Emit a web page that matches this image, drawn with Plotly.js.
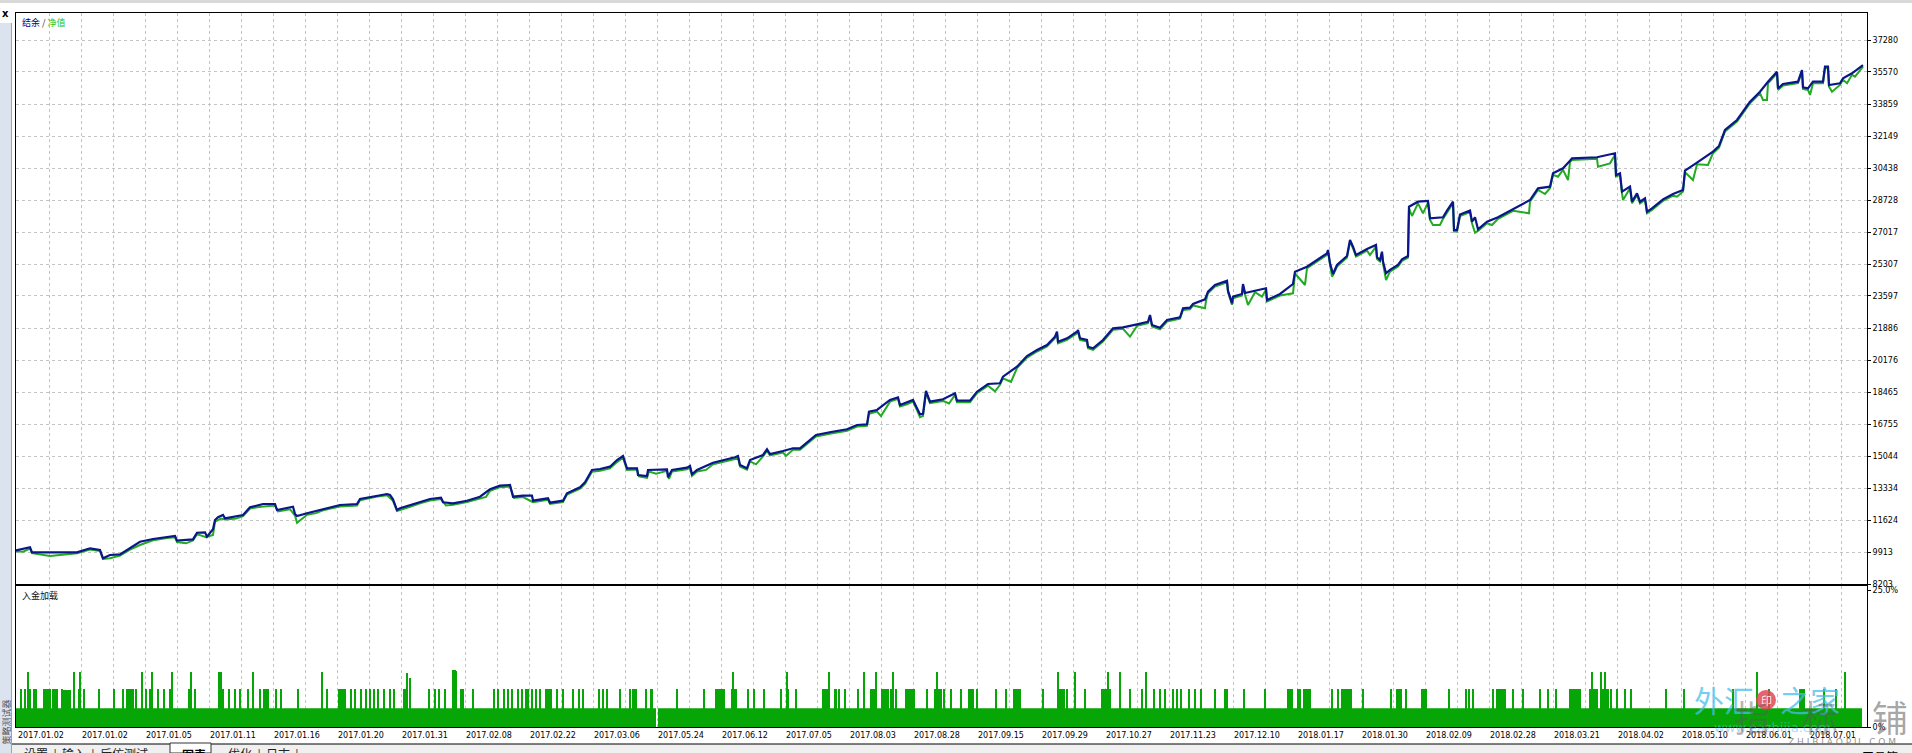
<!DOCTYPE html>
<html><head><meta charset="utf-8">
<script src="https://cdn.plot.ly/plotly-3.0.1.min.js"></script>
<style>html,body{margin:0;padding:0;background:#fff;overflow:hidden}#chart{width:1912px;height:753px}</style>
</head><body><div id="chart"></div>
<script>
// ---------- DATA ----------
const yTickValues = [8203, 9913, 11624, 13334, 15044, 16755, 18465, 20176, 21886, 23597, 25307, 27017, 28728, 30438, 32149, 33859, 35570, 37280];
const yTickLabels = ['8203','9913','11624','13334','15044','16755','18465','20176','21886','23597','25307','27017','28728','30438','32149','33859','35570','37280'];
const dateLabels = ['2017.01.02','2017.01.02','2017.01.05','2017.01.11','2017.01.16','2017.01.20','2017.01.31','2017.02.08','2017.02.22','2017.03.06','2017.05.24','2017.06.12','2017.07.05','2017.08.03','2017.08.28','2017.09.15','2017.09.29','2017.10.27','2017.11.23','2017.12.10','2018.01.17','2018.01.30','2018.02.09','2018.02.28','2018.03.21','2018.04.02','2018.05.10','2018.06.01','2018.07.01'];

// balance (trade index -> value)
const balX = [0,14,16,61,74,84,87,94,104,114,124,137,151,159,161,177,181,189,191,197,199,202,207,209,227,234,247,259,261,274,277,279,281,291,307,324,341,344,371,374,377,381,384,394,404,414,425,427,437,451,464,474,484,494,497,507,516,517,532,534,547,551,564,569,576,584,594,601,607,609,611,621,622,631,632,651,652,656,671,674,676,681,697,719,722,724,731,734,747,751,754,767,777,784,800,815,831,841,851,853,861,874,882,884,891,897,901,904,907,910,914,927,939,941,954,961,972,984,987,1001,1011,1021,1031,1039,1041,1042,1051,1061,1062,1064,1071,1072,1077,1087,1097,1107,1121,1132,1134,1136,1144,1151,1164,1167,1174,1177,1189,1192,1199,1211,1212,1216,1217,1226,1227,1229,1239,1250,1251,1264,1277,1279,1291,1301,1311,1312,1314,1317,1321,1331,1334,1337,1340,1351,1360,1361,1364,1366,1367,1370,1374,1382,1386,1392,1393,1402,1412,1414,1427,1431,1437,1438,1441,1444,1454,1456,1459,1462,1471,1482,1497,1514,1522,1534,1537,1547,1554,1556,1581,1599,1600,1604,1606,1614,1616,1621,1624,1629,1631,1636,1647,1657,1667,1669,1681,1697,1703,1709,1721,1734,1744,1752,1761,1762,1767,1782,1786,1787,1792,1797,1807,1809,1812,1813,1824,1827,1836,1847];
const balY = [10000,10165,9897,9897,10111,10020,9577,9753,9790,10111,10464,10608,10731,10769,10517,10590,10945,10966,10731,11126,11624,11768,11891,11714,11891,12303,12479,12479,12158,12281,12335,11945,11838,11982,12212,12425,12479,12746,13013,12960,12730,12158,12250,12425,12603,12746,12816,12570,12516,12655,12869,13264,13457,13494,12869,12923,12923,12655,12784,12549,12655,13050,13371,13639,14296,14350,14473,14831,15044,14654,14387,14387,14029,13975,14296,14332,13906,14296,14420,14510,14066,14296,14686,14975,15044,14563,14387,14831,15098,15401,15151,15312,15456,15456,16167,16327,16472,16701,16739,17413,17504,18038,18182,17771,17894,18038,17594,17273,17300,18519,17947,18075,18396,18000,18000,18482,18893,18930,19286,19820,20390,20710,20978,21421,21689,21154,21332,21689,21779,21332,21245,20887,20798,21245,21870,21924,22084,22223,22581,22047,21904,22314,22457,22938,22972,23169,23420,23826,24185,24414,23880,23207,23560,23704,24238,23757,23880,24009,23383,23704,24238,24896,25163,25521,25879,26055,25344,24772,25254,25735,26590,26233,25788,26109,26323,25665,25521,25966,25436,24812,24990,25254,25558,25735,28370,28637,28674,27749,27802,28156,28637,27124,27124,27953,28167,27567,27802,27161,27567,27802,28230,28728,29352,29441,30157,30424,30830,30958,31012,31226,30064,30157,29172,29441,28637,29085,28637,28816,28102,28280,28764,29049,29262,30295,30723,31311,31615,32470,33004,33982,34517,35051,35585,34694,34929,35051,35676,34752,34694,35051,35051,35852,35852,34875,34965,35233,35500,35943];

// equity
const eqX = [0,7,14,16,34,50,61,74,84,87,94,104,114,124,137,151,159,161,170,177,181,190,197,199,205,209,220,227,234,245,259,262,274,279,281,291,300,307,324,341,344,360,371,377,381,394,404,414,425,430,437,451,464,470,474,484,494,498,507,517,532,534,547,551,564,569,576,584,594,601,607,611,621,623,631,633,640,651,653,656,671,674,676,681,690,697,719,722,724,731,734,740,747,751,754,767,770,777,784,800,815,831,841,851,853,861,865,874,882,884,891,897,901,904,907,910,914,927,933,939,941,954,961,972,979,984,987,995,1001,1011,1021,1031,1039,1041,1042,1051,1061,1062,1064,1071,1072,1077,1087,1097,1107,1114,1121,1132,1134,1136,1144,1151,1164,1167,1174,1177,1189,1190,1192,1199,1211,1212,1216,1217,1226,1227,1229,1232,1239,1246,1250,1251,1264,1277,1279,1289,1291,1301,1311,1312,1314,1316,1317,1321,1331,1334,1337,1340,1351,1354,1360,1361,1364,1366,1367,1370,1374,1382,1386,1392,1393,1396,1402,1407,1412,1414,1417,1424,1427,1431,1437,1438,1441,1444,1454,1456,1459,1462,1471,1476,1482,1497,1513,1514,1522,1529,1534,1537,1542,1547,1552,1554,1556,1581,1582,1594,1599,1600,1604,1606,1607,1614,1616,1617,1621,1624,1629,1631,1636,1646,1647,1657,1661,1667,1669,1677,1681,1692,1697,1703,1709,1721,1734,1744,1747,1751,1752,1761,1762,1767,1782,1786,1787,1792,1794,1797,1807,1809,1812,1813,1816,1824,1827,1831,1836,1839,1847];
const eqY = [9960,9930,10100,9850,9700,9780,9840,10050,9960,9540,9577,9720,10040,10287,10540,10660,10700,10440,10378,10530,10870,10700,10822,11533,11700,11650,11700,11830,12240,12330,12400,12080,12200,11860,11480,11900,11990,12140,12350,12400,12680,12860,12950,12650,12100,12330,12520,12660,12750,12400,12440,12580,12790,12860,13180,13380,13420,12800,12850,12580,12700,12480,12580,12980,13300,13560,14200,14260,14380,14720,14950,14300,14320,13950,13880,14220,14100,14250,13820,14220,14340,14420,13980,14220,14300,14600,14880,14950,14480,14320,14760,14600,15020,15320,15080,15230,15050,15380,15380,16090,16250,16390,16620,16660,17300,17420,17180,17950,18100,17690,17810,17950,17500,17120,17180,18420,17870,17990,17850,18310,17920,17920,18400,18800,18500,18850,19200,19000,19740,20300,20630,20900,21340,21600,21070,21250,21600,21700,21250,21160,20800,20720,21160,21790,21840,21421,22000,22140,22500,21970,21820,22230,22380,22850,22890,23090,22938,23340,23740,24100,24330,23800,23130,23480,23620,24150,23680,23115,23800,23560,23930,23300,23620,23740,24800,24185,25080,25440,25800,25970,25260,24629,24700,25170,25650,26500,26150,25700,26020,25788,26240,25580,25440,25880,25350,24450,24900,25170,25470,25650,28280,27873,28550,28016,28590,27660,27390,27390,27720,28070,28550,27040,27040,27870,28080,27480,26980,27080,27480,27390,27720,28150,28016,28640,29270,29049,29360,30070,29974,30340,29796,30750,30870,30930,30509,30687,31140,29980,30070,29090,28728,29360,28550,28637,29000,28550,28730,28020,28200,28637,28680,28960,28904,29180,30210,29796,30640,30598,31230,31530,32390,32920,33900,34430,34072,34072,34970,35500,34610,34850,34970,35590,34670,34610,34340,34970,34970,35770,35770,34790,34517,34880,35150,34965,35420,35322,35860];

// deposit load (%), base level and spikes
const baseX = [0, 640, 642, 1846];
const basePct = [3.4, 0, 3.4, 3.4];
const loadX = [5,9,12,14,18,20,28,30,32,34,37,39,41,46,48,50,51,53,54,58,63,64,68,83,98,107,111,113,115,117,120,126,130,134,136,142,148,154,156,173,175,179,203,205,206,207,213,219,224,232,237,244,248,250,252,260,265,282,306,311,323,325,327,329,335,339,345,350,354,358,362,368,374,378,388,390,391,394,413,419,423,429,437,439,440,445,447,457,478,482,488,492,496,502,506,510,512,516,520,524,530,532,534,535,541,547,557,563,567,583,587,591,604,614,617,619,620,630,635,636,661,688,700,701,703,705,706,708,716,717,718,719,720,732,738,748,765,771,772,780,807,809,811,813,819,820,823,829,842,848,855,857,858,860,866,868,870,872,875,877,880,890,892,894,896,898,911,919,921,923,925,928,935,945,953,955,957,961,980,990,998,1000,1002,1004,1027,1042,1044,1046,1048,1051,1059,1069,1086,1088,1090,1092,1094,1104,1114,1126,1130,1138,1144,1149,1157,1161,1165,1173,1179,1185,1199,1209,1211,1228,1249,1272,1274,1276,1282,1284,1288,1290,1292,1294,1316,1322,1326,1327,1329,1331,1333,1335,1347,1375,1381,1383,1385,1390,1406,1408,1410,1433,1450,1453,1457,1477,1481,1483,1485,1487,1489,1497,1507,1524,1532,1540,1554,1556,1558,1560,1562,1564,1574,1576,1577,1579,1581,1585,1587,1589,1591,1592,1595,1601,1609,1615,1650,1668,1717,1741,1753,1784,1786,1788,1808,1820,1829,1831,1833,1835];
const loadPct = [6.9,6.9,10.1,6.9,6.9,6.9,6.9,6.9,6.9,6.9,6.9,6.9,6.9,6.9,6.8,6.8,6.8,6.8,6.8,10.1,6.9,10.1,6.9,6.9,6.9,6.9,6.9,6.9,6.9,6.9,6.9,10.1,6.9,6.9,10.1,6.9,6.9,6.9,10.1,6.9,10.1,6.9,10.1,10.0,6.9,6.9,6.9,6.9,6.9,6.9,10.1,6.9,6.9,6.9,6.9,6.9,6.9,6.9,10.1,6.9,6.9,6.9,6.9,6.9,6.9,6.9,6.9,6.9,6.9,6.9,6.9,6.9,6.9,6.9,6.9,6.9,9.8,9.0,6.9,6.9,6.9,6.9,10.4,10.4,10.2,6.9,6.9,6.9,6.9,6.9,6.9,6.9,6.9,6.9,6.9,6.9,6.9,6.9,6.9,6.9,6.9,6.9,6.9,6.9,6.9,6.9,6.9,6.9,6.9,6.9,6.9,6.9,6.9,6.9,6.9,6.9,6.9,6.9,6.9,6.9,6.9,6.9,6.9,6.9,6.9,6.9,6.9,6.9,6.9,10.1,6.9,6.9,6.9,6.9,6.9,6.9,6.9,10.1,6.9,6.9,6.9,6.9,6.9,10.1,6.9,6.9,6.9,6.9,6.9,10.1,6.9,6.9,6.9,10.1,6.9,6.9,6.9,6.9,6.9,10.1,6.9,6.9,6.9,6.9,6.9,6.9,6.9,6.9,10.1,6.9,6.9,6.9,6.9,6.9,6.9,6.9,6.9,6.9,6.9,6.9,6.9,6.9,6.9,6.9,6.9,10.1,6.9,6.9,6.9,6.9,10.1,6.9,6.9,6.9,6.9,10.1,6.9,10.1,6.9,6.9,10.1,6.9,6.9,6.9,6.9,6.9,6.9,6.9,6.9,6.9,6.9,6.9,6.9,6.9,6.9,6.9,6.9,6.9,6.9,6.9,6.9,6.9,6.9,6.9,6.9,6.9,6.9,6.9,6.9,6.9,6.9,6.9,6.9,6.9,6.9,6.9,6.9,6.9,6.9,6.9,6.9,6.9,6.9,6.9,6.9,6.9,6.9,6.9,6.9,6.9,6.9,6.9,6.9,6.9,6.9,6.9,6.9,6.9,6.9,6.9,6.9,6.9,6.9,10.1,6.9,6.9,6.9,10.1,6.9,10.1,6.9,6.9,6.9,6.9,6.9,6.9,6.9,6.9,6.9,10.1,6.9,6.9,6.9,6.9,6.9,6.9,10.1];

// ---------- LAYOUT HELPERS (pixel -> paper) ----------
const W = 1912, H = 753, L = 16, R = 45, T = 13, B = 26;
const PW = W - L - R, PH = H - T - B;
const px = v => (v - L) / PW;
const py = v => (H - B - v) / PH;

const mainColor = '#0a168a', eqColor = '#22aa22', loadColor = '#07a607';
const grid = {showgrid: true, gridcolor: '#c4c4c4', griddash: '3px,3px', gridwidth: 1};
const axFont = {family: 'DejaVu Sans, Tahoma, sans-serif', size: 8, color: '#000'};

const traces = [
  {x: eqX, y: eqY, type: 'scatter', mode: 'lines', line: {color: eqColor, width: 2}, xaxis: 'x', yaxis: 'y', hoverinfo: 'skip'},
  {x: balX, y: balY, type: 'scatter', mode: 'lines', line: {color: mainColor, width: 2.2}, xaxis: 'x', yaxis: 'y', hoverinfo: 'skip'},
  {x: baseX, y: basePct, type: 'scatter', mode: 'lines', line: {color: loadColor, width: 0, shape: 'hv'}, fill: 'tozeroy', fillcolor: loadColor, xaxis: 'x2', yaxis: 'y2', hoverinfo: 'skip'},
  {x: loadX, y: loadPct, type: 'bar', width: 2, marker: {color: loadColor, line: {width: 0}}, xaxis: 'x2', yaxis: 'y2', hoverinfo: 'skip'}
];

const mainDomainLow = (H - B - 584) / PH;
const lowDomainHigh = (H - B - 586) / PH;

const annotations = [];
dateLabels.forEach((t, k) => annotations.push({
  text: t, xref: 'x', yref: 'paper', x: 1 + 64 * k, y: py(735), xanchor: 'left', yanchor: 'middle',
  showarrow: false, font: axFont, borderpad: 0
}));
annotations.push({text: '<span style="color:#00008b">结余</span><span style="color:#333"> / </span><span style="color:#22c322">净值</span>',
  xref: 'paper', yref: 'paper', x: px(20), y: py(23), xanchor: 'left', yanchor: 'middle', showarrow: false,
  font: {family: 'Noto Sans CJK SC', size: 9}});
annotations.push({text: '入金加载', xref: 'paper', yref: 'paper', x: px(20), y: py(595), xanchor: 'left', yanchor: 'middle',
  showarrow: false, font: {family: 'Noto Sans CJK SC', size: 9, color: '#111'}});
// window chrome
annotations.push({text: '<b>x</b>', xref: 'paper', yref: 'paper', x: px(5), y: py(13), xanchor: 'center', yanchor: 'middle', showarrow: false, font: {family: 'DejaVu Sans', size: 10, color: '#000'}});
annotations.push({text: '策略测试器', xref: 'paper', yref: 'paper', x: px(5.5), y: py(722), xanchor: 'center', yanchor: 'middle', textangle: -90, showarrow: false, font: {family: 'Noto Sans CJK SC', size: 9, color: '#555'}});
annotations.push({text: '设置  |  输入  |  后仿测试', xref: 'paper', yref: 'paper', x: px(22), y: py(754), xanchor: 'left', yanchor: 'middle', showarrow: false, font: {family: 'Noto Sans CJK SC', size: 12, color: '#222'}});
annotations.push({text: '<b>图表</b>', xref: 'paper', yref: 'paper', x: px(180), y: py(754), xanchor: 'left', yanchor: 'middle', showarrow: false, font: {family: 'Noto Sans CJK SC', size: 12, color: '#000'}});
annotations.push({text: '优化  |  日志  |', xref: 'paper', yref: 'paper', x: px(226), y: py(754), xanchor: 'left', yanchor: 'middle', showarrow: false, font: {family: 'Noto Sans CJK SC', size: 12, color: '#222'}});
annotations.push({text: '工具箱', xref: 'paper', yref: 'paper', x: px(1860), y: py(756), xanchor: 'left', yanchor: 'middle', showarrow: false, font: {family: 'Noto Sans CJK SC', size: 12, color: '#000'}});
// watermark
annotations.push({text: '外汇', xref: 'paper', yref: 'paper', x: px(1724), y: py(699), xanchor: 'center', yanchor: 'middle', showarrow: false, font: {family: 'Noto Sans CJK SC', size: 30, color: 'rgba(70,190,235,0.75)'}});
annotations.push({text: '之家', xref: 'paper', yref: 'paper', x: px(1810), y: py(699), xanchor: 'center', yanchor: 'middle', showarrow: false, font: {family: 'Noto Sans CJK SC', size: 30, color: 'rgba(70,190,235,0.75)'}});
annotations.push({text: '印', xref: 'paper', yref: 'paper', x: px(1766), y: py(700), xanchor: 'center', yanchor: 'middle', showarrow: false, font: {family: 'Noto Sans CJK SC', size: 11, color: 'rgba(255,255,255,0.9)'}});
annotations.push({text: 'www.eazhijia.com', xref: 'paper', yref: 'paper', x: px(1772), y: py(727), xanchor: 'center', yanchor: 'middle', showarrow: false, font: {family: 'DejaVu Sans', size: 13, color: 'rgba(90,190,235,0.55)'}});
annotations.push({text: '指', xref: 'paper', yref: 'paper', x: px(1752), y: py(716), xanchor: 'center', yanchor: 'middle', showarrow: false, font: {family: 'Noto Sans CJK SC', size: 36, color: 'rgba(90,90,90,0.45)'}});
annotations.push({text: '标', xref: 'paper', yref: 'paper', x: px(1820), y: py(716), xanchor: 'center', yanchor: 'middle', showarrow: false, font: {family: 'Noto Sans CJK SC', size: 36, color: 'rgba(90,90,90,0.45)'}});
annotations.push({text: '铺', xref: 'paper', yref: 'paper', x: px(1890), y: py(716), xanchor: 'center', yanchor: 'middle', showarrow: false, font: {family: 'Noto Sans CJK SC', size: 36, color: 'rgba(90,90,90,0.55)'}});
annotations.push({text: 'Z H I B I A O P U . C O M', xref: 'paper', yref: 'paper', x: px(1842), y: py(742), xanchor: 'center', yanchor: 'middle', showarrow: false, font: {family: 'DejaVu Sans', size: 9, color: 'rgba(110,110,110,0.75)'}});

const shapes = [
  {type: 'rect', xref: 'paper', yref: 'paper', x0: px(0), x1: px(1912), y0: py(3), y1: py(0), fillcolor: '#d9d9d9', line: {width: 0}, layer: 'below'},
  {type: 'rect', xref: 'paper', yref: 'paper', x0: px(0), x1: px(11), y0: py(753), y1: py(23), fillcolor: '#dbe3ee', line: {width: 0}},
  {type: 'line', xref: 'paper', yref: 'paper', x0: px(11.5), x1: px(11.5), y0: py(753), y1: py(23), line: {color: '#9aa6b6', width: 1}},
  {type: 'rect', xref: 'paper', yref: 'paper', x0: px(12), x1: px(1912), y0: py(753), y1: py(744), fillcolor: '#f0f0f0', line: {width: 0}},
  {type: 'line', xref: 'paper', yref: 'paper', x0: px(12), x1: px(170), y0: py(744), y1: py(744), line: {color: '#000', width: 1}},
  {type: 'line', xref: 'paper', yref: 'paper', x0: px(211), x1: px(1912), y0: py(744), y1: py(744), line: {color: '#000', width: 1}},
  {type: 'rect', xref: 'paper', yref: 'paper', x0: px(170), x1: px(211), y0: py(753), y1: py(743), fillcolor: '#ffffff', line: {color: '#333', width: 1}},
  {type: 'circle', xref: 'paper', yref: 'paper', x0: px(1756), x1: px(1776), y0: py(710), y1: py(690), fillcolor: 'rgba(225,70,85,0.85)', line: {width: 0}}
];

const layout = {
  width: W, height: H, margin: {l: L, r: R, t: T, b: B, pad: 0},
  paper_bgcolor: '#fff', plot_bgcolor: '#fff', showlegend: false, hovermode: false,
  bargap: 0, barmode: 'overlay',
  xaxis: Object.assign({range: [0, 1851], tickmode: 'linear', tick0: 1, dtick: 32, showticklabels: false, ticks: '', zeroline: false,
    showline: true, mirror: true, linecolor: '#000', linewidth: 1, anchor: 'y'}, grid),
  xaxis2: Object.assign({range: [0, 1851], tickmode: 'linear', tick0: 1, dtick: 32, showticklabels: false, ticks: '', zeroline: false,
    showline: true, mirror: true, linecolor: '#000', linewidth: 1, anchor: 'y2', matches: 'x'}, grid),
  yaxis: Object.assign({domain: [mainDomainLow, 1], range: [8203, 8203 + (584 - 13) * (37280 - 8203) / 544], side: 'right',
    tickmode: 'array', tickvals: yTickValues, ticktext: yTickLabels, ticks: 'outside', ticklen: 3, tickcolor: '#000',
    tickfont: axFont, zeroline: false, showline: true, mirror: true, linecolor: '#000', linewidth: 1, anchor: 'x'}, grid),
  yaxis2: {domain: [0, lowDomainHigh], range: [0, 25.73], side: 'right', tickmode: 'array', tickvals: [0, 25], ticktext: ['0%', '25.0%'],
    ticks: 'outside', ticklen: 3, tickcolor: '#000', tickfont: axFont, showgrid: false, zeroline: false,
    showline: true, mirror: true, linecolor: '#000', linewidth: 1, anchor: 'x2'},
  annotations: annotations, shapes: shapes,
  font: {family: 'DejaVu Sans, sans-serif'}
};

Plotly.newPlot('chart', traces, layout, {staticPlot: true, displayModeBar: false});
</script>
</body></html>
